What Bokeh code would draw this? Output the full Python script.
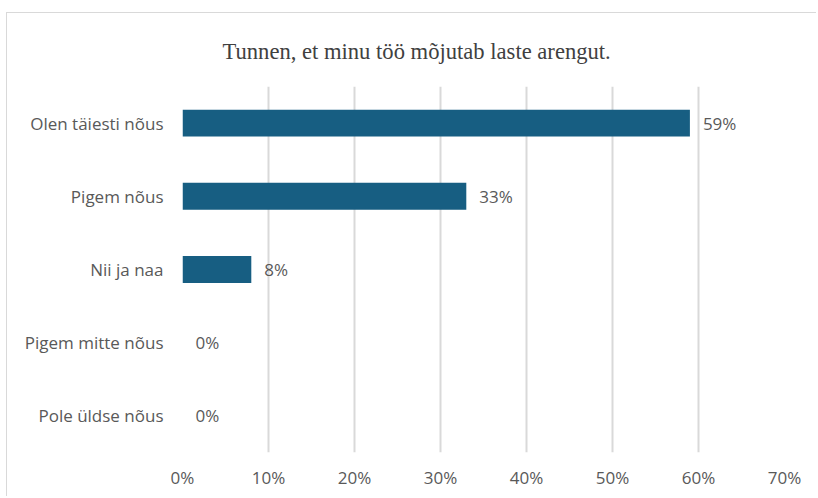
from bokeh.plotting import figure
from bokeh.models import ColumnDataSource, FixedTicker, NumeralTickFormatter, Title
from bokeh.core.properties import value
from bokeh.embed import file_html
from bokeh.resources import INLINE

categories = ["Olen täiesti nõus", "Pigem nõus", "Nii ja naa", "Pigem mitte nõus", "Pole üldse nõus"]
values = [0.59, 0.33, 0.08, 0.0, 0.0]
labels = ["59%", "33%", "8%", "0%", "0%"]
x_ticks = [0, 0.1, 0.2, 0.3, 0.4, 0.5, 0.6, 0.7]
title_text = "Tunnen, et minu töö mõjutab laste arengut."

src = ColumnDataSource(dict(cat=categories, val=values, lab=labels))

p = figure(width=810, height=484, y_range=list(reversed(categories)), x_range=(0, 0.7),
           output_backend="svg", toolbar_location=None,
           min_border_left=175, min_border_right=33, min_border_top=71, min_border_bottom=45)
p.title = None
t = Title(text=title_text, align="left", offset=40, text_font="Liberation Serif",
          text_font_size="22.6px", text_font_style="normal", text_color="#404040", standoff=46)
p.add_layout(t, "above")

p.hbar(y="cat", right="val", left=0, height=0.367, source=src, color="#175E82", line_color=None)
p.text(x="val", y="cat", text="lab", source=src, x_offset=13, text_baseline="middle",
       text_align="left", text_font=value("Open Sans"), text_font_size="17px", text_color="#595959")

p.outline_line_color = None
p.ygrid.grid_line_color = None
p.xgrid.grid_line_color = "#d9d9d9"
p.xgrid.grid_line_width = 2
p.xaxis.ticker = FixedTicker(ticks=x_ticks)
p.xaxis.formatter = NumeralTickFormatter(format="0%")
for ax in (p.xaxis[0], p.yaxis[0]):
    ax.axis_line_color = None
    ax.major_tick_line_color = None
    ax.minor_tick_line_color = None
    ax.major_tick_out = 0
    ax.minor_tick_out = 0
    ax.major_label_text_font = "Open Sans"
    ax.major_label_text_font_size = "17px"
    ax.major_label_text_color = "#595959"
p.yaxis.major_label_standoff = 19
p.xaxis.major_label_standoff = 13
p.styles = {"border-left": "1px solid #d9d9d9", "border-top": "1px solid #d9d9d9",
            "margin-left": "6px", "margin-top": "12px"}

open("out.html", "w").write(file_html(p, INLINE))
